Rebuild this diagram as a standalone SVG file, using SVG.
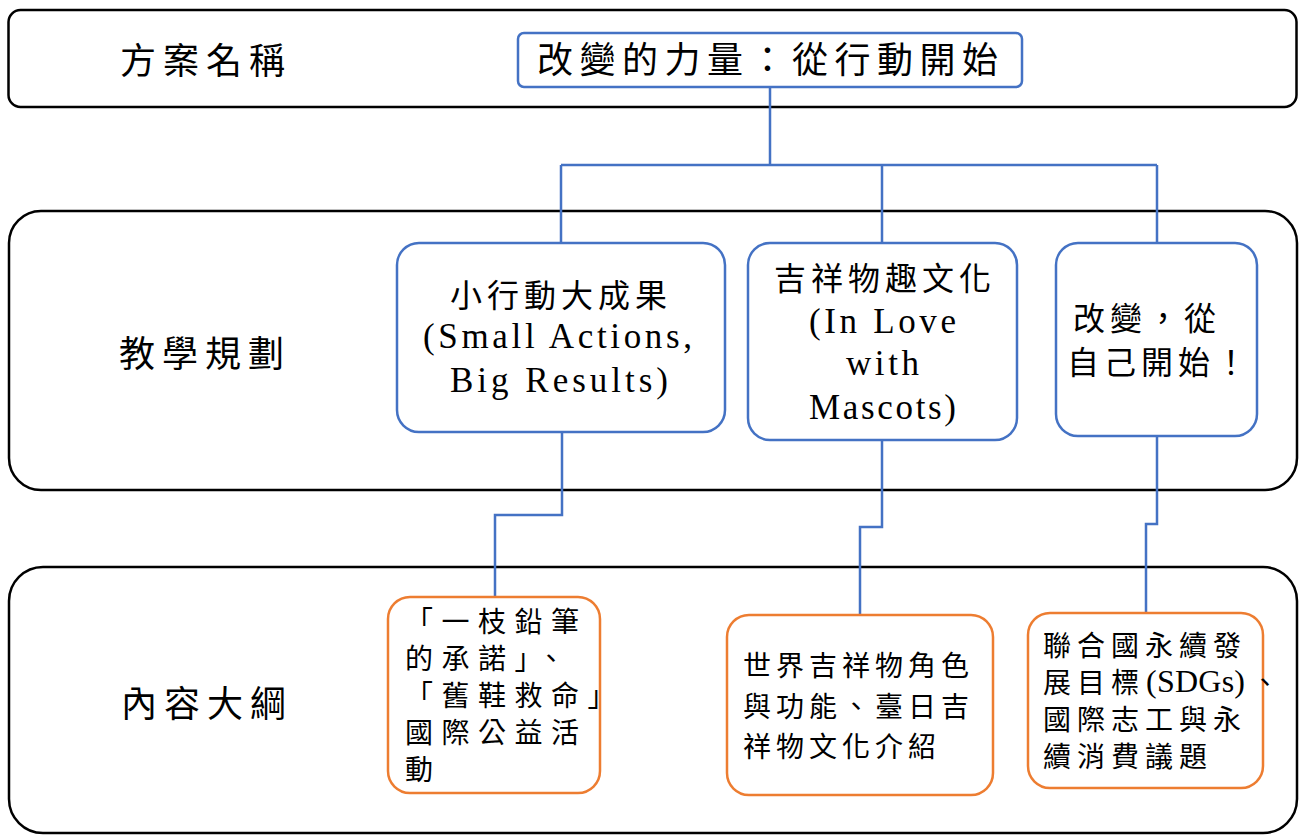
<svg xmlns="http://www.w3.org/2000/svg" width="1299" height="836" viewBox="0 0 1299 836">
<style>
.band{fill:none;stroke:#000;stroke-width:2.5}
.blue{fill:#fff;stroke:#4472C4;stroke-width:2.5}
.orange{fill:#fff;stroke:#ED7D31;stroke-width:2.5}
.conn{fill:none;stroke:#4472C4;stroke-width:2.5}
.cjk{font-family:"Noto Sans CJK TC","Liberation Serif",sans-serif;fill:#000}
.lat{font-family:"Liberation Serif","Noto Sans CJK TC",serif;fill:#000}
.lbl{font-size:36px;letter-spacing:7px}
.n30{font-size:32px;letter-spacing:5px}
.n26{font-size:28px}
</style>
<rect width="1299" height="836" fill="#fff"/>
<g id="bands">
<rect class="band" x="8.5" y="10" width="1288" height="97" rx="12"/>
<rect class="band" x="9" y="211" width="1288" height="279" rx="32"/>
<rect class="band" x="9" y="567" width="1288" height="266" rx="34"/>
</g>
<g id="row-labels">
<text class="cjk lbl" x="120" y="74">方案名稱</text>
<text class="cjk lbl" x="119" y="367">教學規劃</text>
<text class="cjk lbl" x="121" y="717">內容大綱</text>
</g>
<g id="connectors">
<path class="conn" d="M770 87V165M561 165H1157M561 165V243M882 165V243M1157 165V243"/>
<path class="conn" d="M562 432V515H495V597"/>
<path class="conn" d="M882 440V527H860V615"/>
<path class="conn" d="M1157 436V524H1146V613"/>
</g>
<g id="title">
<rect class="blue" x="518" y="33" width="504" height="54" rx="6"/>
<text class="cjk" x="537" y="73" font-size="36" letter-spacing="6.5">改變的力量：從行動開始</text>
</g>
<g id="node-small-actions">
<rect class="blue" x="397" y="243" width="328" height="189" rx="22"/>
<text class="cjk n30" x="450" y="307">小行動大成果</text>
<text class="lat" x="423" y="348" font-size="35" textLength="269" lengthAdjust="spacing">(Small Actions,</text>
<text class="lat" x="450" y="392" font-size="35" textLength="218" lengthAdjust="spacing">Big Results)</text>
</g>
<g id="node-mascots">
<rect class="blue" x="748" y="243" width="269" height="197" rx="22"/>
<text class="cjk n30" x="774" y="290">吉祥物趣文化</text>
<text class="lat" x="809" y="333" font-size="35" textLength="147" lengthAdjust="spacing">(In Love</text>
<text class="lat" x="846" y="375" font-size="35" textLength="73" lengthAdjust="spacing">with</text>
<text class="lat" x="809" y="419" font-size="35" textLength="147" lengthAdjust="spacing">Mascots)</text>
</g>
<g id="node-change">
<rect class="blue" x="1056" y="243" width="201" height="193" rx="22"/>
<text class="cjk n30" x="1073" y="330">改變，從</text>
<text class="cjk n30" x="1067" y="374">自己開始！</text>
</g>
<g id="node-pencil">
<rect class="orange" x="388" y="597" width="212" height="196" rx="22"/>
<text class="cjk n26" letter-spacing="8.5">
<tspan x="405" y="632">「一枝鉛筆</tspan>
<tspan x="405" y="669">的承諾」、</tspan>
<tspan x="405" y="706">「舊鞋救命」</tspan>
<tspan x="405" y="743">國際公益活</tspan>
<tspan x="405" y="780">動</tspan>
</text>
</g>
<g id="node-world-mascots">
<rect class="orange" x="727" y="615" width="266" height="180" rx="22"/>
<text class="cjk n26" letter-spacing="5">
<tspan x="743" y="676">世界吉祥物角色</tspan>
<tspan x="743" y="717">與功能、臺日吉</tspan>
<tspan x="743" y="757">祥物文化介紹</tspan>
</text>
</g>
<g id="node-sdgs">
<rect class="orange" x="1028" y="613" width="235" height="175" rx="22"/>
<text class="cjk n26" letter-spacing="6">
<tspan x="1043" y="656">聯合國永續發</tspan>
<tspan x="1043" y="693">展目標</tspan>
<tspan x="1043" y="730">國際志工與永</tspan>
<tspan x="1043" y="767">續消費議題</tspan>
</text>
<text class="lat" x="1146" y="692" font-size="32" textLength="99" lengthAdjust="spacing">(SDGs)</text>
<text class="cjk n26" x="1251" y="693">、</text>
</g>
</svg>
